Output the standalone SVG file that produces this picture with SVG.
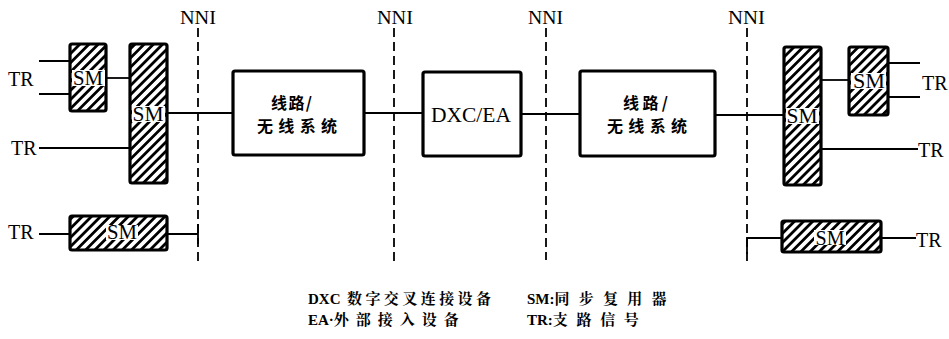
<svg xmlns="http://www.w3.org/2000/svg" width="949" height="339" viewBox="0 0 949 339">
<defs>
<pattern id="hatch" width="6.5" height="6.5" patternUnits="userSpaceOnUse" patternTransform="rotate(45)">
<rect width="6.5" height="6.5" fill="#fff"/>
<line x1="3.25" y1="0" x2="3.25" y2="6.5" stroke="#000" stroke-width="2.8"/>
</pattern>
</defs>
<style>
.sm{fill:url(#hatch);stroke:#000;stroke-width:3.2}
.box{fill:#fff;stroke:#000;stroke-width:3.2}
.ln{stroke:#000;stroke-width:1.8;fill:none}
.nni{stroke:#000;stroke-width:1.8;stroke-dasharray:9,5;fill:none}
.lat{font-family:"Liberation Serif","Times New Roman",serif;fill:#000}
.cjk{font-family:"Noto Sans CJK SC","Noto Sans CJK JP",sans-serif;font-weight:bold;fill:#000}
.leg{font-family:"Liberation Serif","Noto Serif CJK SC","Noto Sans CJK SC",serif;font-weight:bold;fill:#000}
.lbl{fill:#fff}
</style>
<rect width="949" height="339" fill="#fff"/>

<g id="nni-lines">
<path class="nni" d="M198,28V264"/>
<path class="nni" d="M394,28V262"/>
<path class="nni" d="M546,28V260"/>
<path class="nni" d="M747,28V266"/>
<text class="lat" x="180" y="24" font-size="18" textLength="36" lengthAdjust="spacingAndGlyphs">NNI</text>
<text class="lat" x="377" y="24" font-size="18" textLength="36" lengthAdjust="spacingAndGlyphs">NNI</text>
<text class="lat" x="528" y="24" font-size="18" textLength="35" lengthAdjust="spacingAndGlyphs">NNI</text>
<text class="lat" x="728" y="24" font-size="18" textLength="37" lengthAdjust="spacingAndGlyphs">NNI</text>
</g>

<g id="connectors">
<path class="ln" d="M39,61H70M39,94H70"/>
<path class="ln" d="M106,78H130"/>
<path class="ln" d="M167,113H233"/>
<path class="ln" d="M39,148H130"/>
<path class="ln" d="M39,234H70M167,234H198M198,224V244"/>
<path class="ln" d="M364,113H423"/>
<path class="ln" d="M521,114H580"/>
<path class="ln" d="M715,115H784"/>
<path class="ln" d="M821,80H849"/>
<path class="ln" d="M888,63H920M888,97H920"/>
<path class="ln" d="M821,149H918"/>
<path class="ln" d="M747,254V238H782M881,238H916"/>
</g>

<g id="tr-labels">
<text class="lat" x="8" y="86" font-size="20">TR</text>
<text class="lat" x="11" y="155" font-size="20">TR</text>
<text class="lat" x="8" y="239" font-size="20">TR</text>
<text class="lat" x="922" y="90" font-size="20">TR</text>
<text class="lat" x="918" y="157" font-size="20">TR</text>
<text class="lat" x="916" y="247" font-size="20">TR</text>
</g>

<g id="sm-left-small">
<rect class="sm" x="70" y="44" width="36" height="67" rx="2"/>
<rect class="lbl" x="72" y="70" width="33" height="16"/>
<text class="lat" x="88" y="85" font-size="21" text-anchor="middle" textLength="30" lengthAdjust="spacingAndGlyphs">SM</text>
</g>
<g id="sm-left-big">
<rect class="sm" x="130" y="44" width="37" height="139" rx="2"/>
<rect class="lbl" x="132" y="106" width="33" height="16"/>
<text class="lat" x="148" y="121" font-size="21" text-anchor="middle" textLength="31" lengthAdjust="spacingAndGlyphs">SM</text>
</g>
<g id="sm-left-bottom">
<rect class="sm" x="70" y="216" width="97" height="34" rx="2"/>
<rect class="lbl" x="106" y="225" width="32" height="15"/>
<text class="lat" x="122" y="239" font-size="21" text-anchor="middle" textLength="30" lengthAdjust="spacingAndGlyphs">SM</text>
</g>

<g id="line-system-1">
<rect class="box" x="233" y="71" width="131" height="84" rx="2"/>
<text class="cjk" x="271" y="109" font-size="16" textLength="41" lengthAdjust="spacing">线路/</text>
<text class="cjk" x="257" y="132" font-size="16" textLength="80" lengthAdjust="spacing">无线系统</text>
</g>
<g id="dxc-ea">
<rect class="box" x="423" y="72" width="98" height="84" rx="2"/>
<text class="lat" x="431" y="122" font-size="21" textLength="80" lengthAdjust="spacingAndGlyphs">DXC/EA</text>
</g>
<g id="line-system-2">
<rect class="box" x="580" y="71" width="135" height="85" rx="2"/>
<text class="cjk" x="623" y="109" font-size="16" textLength="45" lengthAdjust="spacing">线路/</text>
<text class="cjk" x="607" y="132" font-size="16" textLength="80" lengthAdjust="spacing">无线系统</text>
</g>

<g id="sm-right-big">
<rect class="sm" x="784" y="47" width="37" height="138" rx="2"/>
<rect class="lbl" x="786" y="108" width="33" height="16"/>
<text class="lat" x="802" y="123" font-size="21" text-anchor="middle" textLength="31" lengthAdjust="spacingAndGlyphs">SM</text>
</g>
<g id="sm-right-small">
<rect class="sm" x="849" y="47" width="39" height="68" rx="2"/>
<rect class="lbl" x="851" y="73" width="35" height="16"/>
<text class="lat" x="869" y="88" font-size="21" text-anchor="middle" textLength="32" lengthAdjust="spacingAndGlyphs">SM</text>
</g>
<g id="sm-right-bottom">
<rect class="sm" x="782" y="221" width="99" height="31" rx="2"/>
<rect class="lbl" x="814" y="230" width="32" height="15"/>
<text class="lat" x="830" y="245" font-size="21" text-anchor="middle" textLength="29" lengthAdjust="spacingAndGlyphs">SM</text>
</g>

<g id="legend">
<text class="leg" x="308" y="304" font-size="15">DXC <tspan x="347" textLength="144" lengthAdjust="spacing">数字交叉连接设备</tspan></text>
<text class="leg" x="527" y="304" font-size="15">SM:<tspan textLength="112" lengthAdjust="spacing">同步复用器</tspan></text>
<text class="leg" x="308" y="325" font-size="15">EA·<tspan textLength="125" lengthAdjust="spacing">外部接入设备</tspan></text>
<text class="leg" x="527" y="325" font-size="15">TR:<tspan textLength="86" lengthAdjust="spacing">支路信号</tspan></text>
</g>
</svg>
